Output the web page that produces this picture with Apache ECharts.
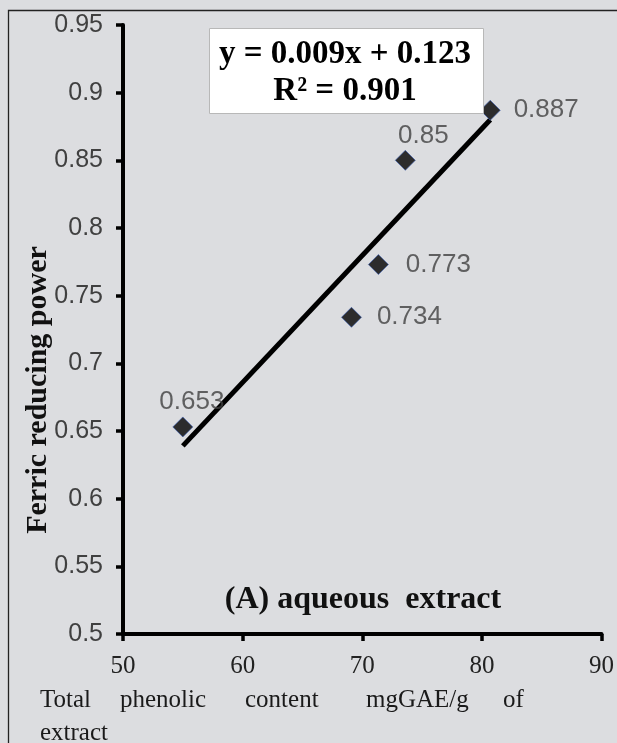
<!DOCTYPE html>
<html>
<head>
<meta charset="utf-8">
<script src="https://cdn.jsdelivr.net/npm/echarts@6/dist/echarts.min.js"></script>
<style>
  html, body { margin: 0; padding: 0; background: #dcdde0; }
  #chart { width: 617px; height: 743px; }
</style>
</head>
<body>
<div id="chart"></div>
<script>
// values
var phenolic = [55.0, 69.1, 71.35, 73.6, 80.7];
var reducing = [0.653, 0.734, 0.773, 0.85, 0.887];
// trend line end points as drawn
var trendX = [55.0, 80.7];
var trendY = [0.639, 0.880];
var xTicks = { min: 50, max: 90, step: 10 };
var yTicks = { min: 0.5, max: 0.95, step: 0.05 };
// x axis title, word by word (the original is justified)
var xTitleWords = ['Total', 'phenolic', 'content', 'mgGAE/g', 'of'];

// where each point label sits
var labelSpot = [
  { position: 'top', offset: [9, 3] },
  { position: 'right', offset: [10, 0] },
  { position: 'right', offset: [12, 0] },
  { position: 'top', offset: [18, 4] },
  { position: 'right', offset: [8, 0] }
];
var wordX = [40, 120, 245, 366, 503];

var serif = '"Liberation Serif", "DejaVu Serif", serif';
var sans = '"Liberation Sans", Arial, sans-serif';

var points = phenolic.map(function (x, i) {
  return {
    value: [x, reducing[i]],
    label: {
      show: true,
      position: labelSpot[i].position,
      offset: labelSpot[i].offset,
      formatter: String(reducing[i]),
      fontFamily: sans,
      fontSize: 26,
      color: '#404040'
    }
  };
});
var trend = trendX.map(function (x, i) { return [x, trendY[i]]; });

var graphics = [
  // outer frame
  { type: 'rect', shape: { x: 8.5, y: 10.5, width: 700, height: 800 },
    style: { fill: 'none', stroke: '#222', lineWidth: 1.3 }, silent: true },
  // equation box
  { type: 'rect', shape: { x: 209.5, y: 28.5, width: 274, height: 85 },
    style: { fill: '#fff', stroke: '#b8b8b8', lineWidth: 1 }, z: 10 },
  { type: 'text', z: 11, x: 345, y: 54,
    style: { text: 'y = 0.009x + 0.123', align: 'center', verticalAlign: 'middle',
             font: 'bold 33px ' + serif, fill: '#000' } },
  { type: 'text', z: 11, x: 345, y: 91,
    style: { text: 'R² = 0.901', align: 'center', verticalAlign: 'middle',
             font: 'bold 33px ' + serif, fill: '#000' } },
  // panel tag
  { type: 'text', x: 363, y: 600,
    style: { text: '(A) aqueous  extract', align: 'center', verticalAlign: 'middle',
             font: 'bold 32px ' + serif, fill: '#111' } },
  // y axis title
  { type: 'text', x: 38, y: 390, rotation: Math.PI / 2,
    style: { text: 'Ferric reducing power', align: 'center', verticalAlign: 'middle',
             font: 'bold 30px ' + serif, fill: '#111' } },
  { type: 'text', x: 40, y: 733,
    style: { text: 'extract', verticalAlign: 'middle', font: '25px ' + serif, fill: '#1a1a1a' } }
];
xTitleWords.forEach(function (w, i) {
  graphics.push({ type: 'text', x: wordX[i], y: 700,
    style: { text: w, verticalAlign: 'middle', font: '25px ' + serif, fill: '#1a1a1a' } });
});

var myChart = echarts.init(document.getElementById('chart'));
var option = {
  backgroundColor: '#dcdde0',
  animation: false,
  grid: { left: 123, right: 14, top: 25, bottom: 109, containLabel: false },
  xAxis: {
    type: 'value',
    min: xTicks.min, max: xTicks.max, interval: xTicks.step,
    axisLine: { lineStyle: { color: '#000', width: 4 } },
    axisTick: { show: true, length: 7, lineStyle: { color: '#000', width: 3.5 } },
    axisLabel: { fontFamily: serif, fontSize: 25, color: '#222', margin: 20 },
    splitLine: { show: false }
  },
  yAxis: {
    type: 'value',
    min: yTicks.min, max: yTicks.max, interval: yTicks.step,
    axisLine: { lineStyle: { color: '#000', width: 4 } },
    axisTick: { show: true, length: 7, lineStyle: { color: '#000', width: 3.5 } },
    axisLabel: { fontFamily: sans, fontSize: 25, color: '#404040', margin: 20 },
    splitLine: { show: false }
  },
  series: [
    {
      type: 'line',
      data: trend,
      symbol: 'none',
      lineStyle: { color: '#000', width: 5 },
      z: 2
    },
    {
      type: 'scatter',
      data: points,
      symbol: 'diamond',
      symbolSize: [20, 20],
      itemStyle: { color: '#000', borderColor: '#3d5fae', borderWidth: 0.8 },
      z: 3
    }
  ],
  graphic: graphics
};
myChart.setOption(option);
</script>
</body>
</html>
